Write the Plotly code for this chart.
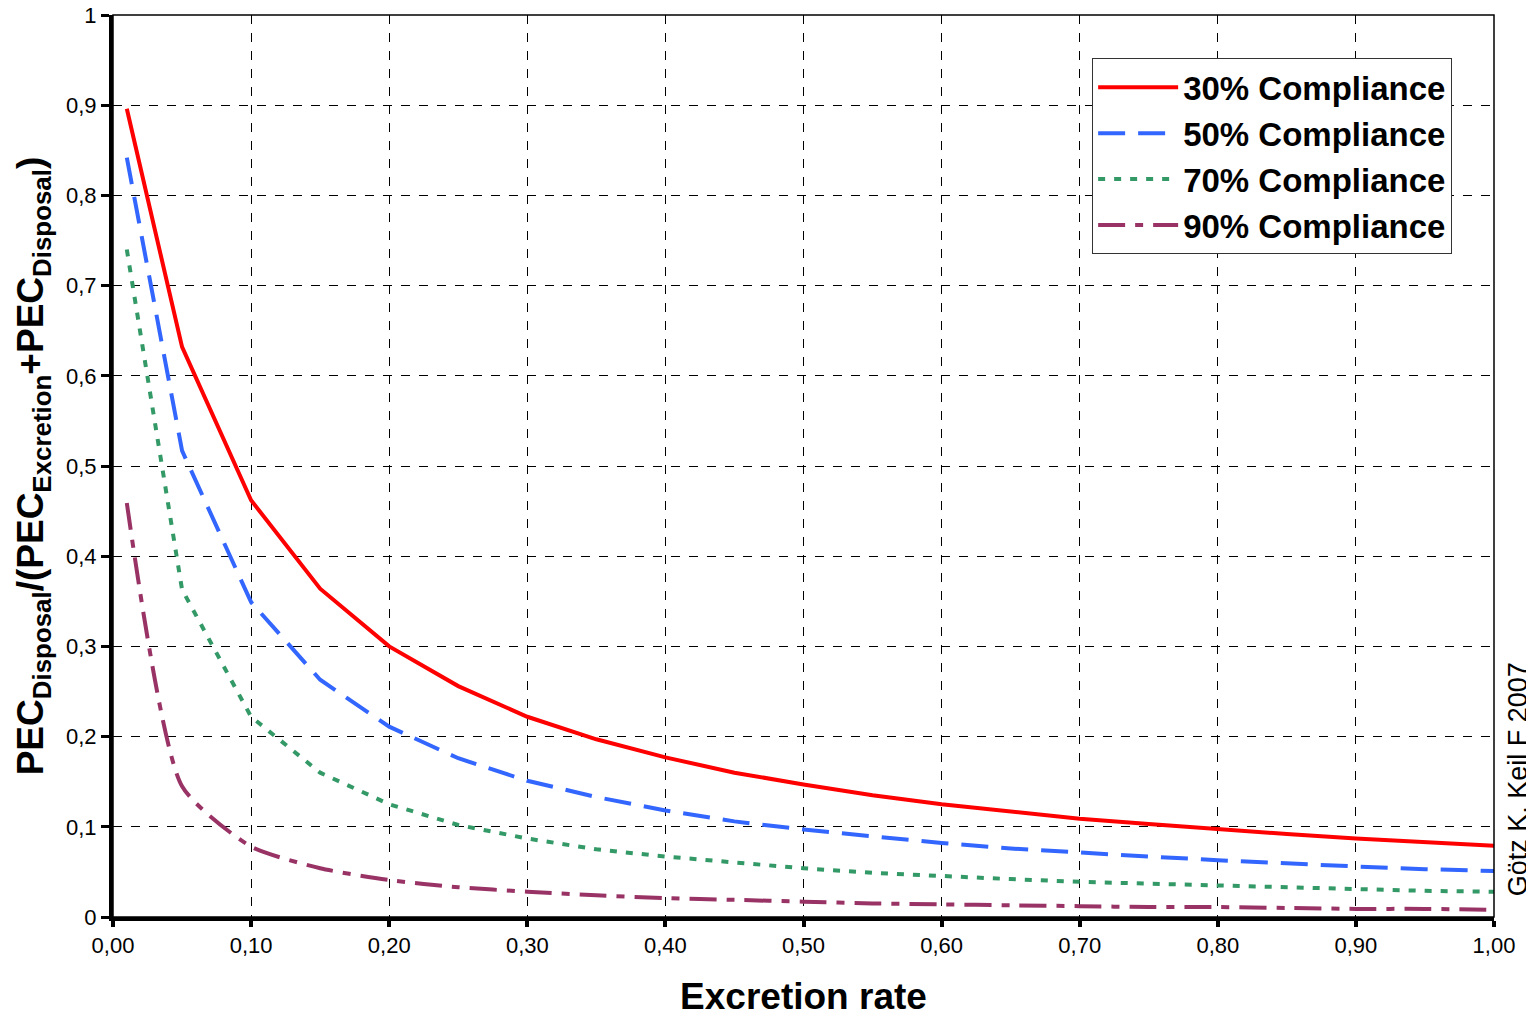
import plotly.graph_objects as go

excretion_rate = [0.01, 0.05, 0.10, 0.15, 0.20, 0.25, 0.30, 0.35, 0.40, 0.45, 0.50,
                  0.55, 0.60, 0.65, 0.70, 0.75, 0.80, 0.85, 0.90, 0.95, 1.00]

compliance_30 = [0.896, 0.632, 0.462, 0.364, 0.300, 0.256, 0.222, 0.197, 0.177, 0.160, 0.147,
                 0.135, 0.125, 0.117, 0.109, 0.103, 0.097, 0.092, 0.087, 0.083, 0.079]
compliance_50 = [0.842, 0.517, 0.349, 0.263, 0.211, 0.176, 0.151, 0.133, 0.118, 0.106, 0.097,
                 0.089, 0.082, 0.076, 0.071, 0.067, 0.063, 0.059, 0.056, 0.053, 0.051]
compliance_70 = [0.740, 0.363, 0.222, 0.160, 0.125, 0.102, 0.087, 0.075, 0.067, 0.060, 0.054,
                 0.049, 0.045, 0.042, 0.039, 0.037, 0.034, 0.032, 0.031, 0.029, 0.028]
compliance_90 = [0.459, 0.145, 0.078, 0.054, 0.041, 0.033, 0.028, 0.024, 0.021, 0.019, 0.017,
                 0.015, 0.014, 0.013, 0.012, 0.011, 0.011, 0.010, 0.009, 0.009, 0.008]

series_names = ["30% Compliance", "50% Compliance", "70% Compliance", "90% Compliance"]

fig = go.Figure()
styles = [
    ("#FF0000", "solid", "linear"),
    ("#3366FF", "27px,13px", "linear"),
    ("#339966", "7px,9px", "linear"),
    ("#993366", "27px,10px,8px,10px", "spline"),
]
for i, (name, ys, (col, dash, shape)) in enumerate(zip(
        series_names, [compliance_30, compliance_50, compliance_70, compliance_90], styles)):
    fig.add_trace(go.Scatter(
        x=excretion_rate, y=ys, name=name, mode="lines", legendgroup=f"g{i}",
        line=dict(color=col, width=4, dash=dash, shape=shape, smoothing=0.6),
    ))

FONT = "Liberation Sans, Arial, sans-serif"
axis_font = dict(family=FONT, size=22, color="black")

fig.update_layout(
    width=1526, height=1017,
    margin=dict(l=113, r=32, t=15, b=100),
    paper_bgcolor="white", plot_bgcolor="white",
    separators=", ",
    font=dict(family=FONT, color="black"),
    showlegend=True,
    legend=dict(
        x=0.709, y=0.952, xanchor="left", yanchor="top",
        bgcolor="white", bordercolor="#333333", borderwidth=1,
        font=dict(family=FONT, size=33, color="black", weight="bold"),
        itemwidth=80, tracegroupgap=0,
    ),
    xaxis=dict(
        range=[0, 1], dtick=0.1, tick0=0, tickformat=".2f", automargin=False,
        showgrid=True, gridcolor="black", gridwidth=1, griddash="dash",
        showline=True, linecolor="black", linewidth=4,
        ticks="outside", ticklen=6, tickwidth=4, tickcolor="black",
        tickfont=axis_font, zeroline=False,
        title=dict(text="Excretion rate", standoff=32,
                   font=dict(family=FONT, size=37, color="black", weight="bold")),
    ),
    yaxis=dict(
        range=[0, 1], dtick=0.1, tick0=0, automargin=False,
        showgrid=True, gridcolor="black", gridwidth=1, griddash="dash",
        showline=True, linecolor="black", linewidth=4,
        ticks="outside", ticklen=8, tickwidth=3, tickcolor="black",
        tickfont=axis_font, zeroline=False,
        title=dict(text="PEC<sub>Disposal</sub>/(PEC<sub>Excretion</sub>+PEC<sub>Disposal</sub>)",
                   standoff=12,
                   font=dict(family=FONT, size=37, color="black", weight="bold")),
    ),
    shapes=[dict(type="rect", xref="paper", yref="paper", x0=0, y0=0, x1=1, y1=1,
                 line=dict(color="black", width=1.5), layer="above")],
    annotations=[dict(
        text="Götz K, Keil F 2007", xref="paper", yref="paper",
        x=1.0175, y=0.021, xanchor="center", yanchor="bottom", textangle=-90,
        showarrow=False,
        font=dict(family=FONT, size=27, color="black"),
    )],
)

fig.write_html(
    "out.html",
    config={"displayModeBar": False},
    post_script="document.body.style.margin='0';document.body.style.overflow='hidden';",
)
